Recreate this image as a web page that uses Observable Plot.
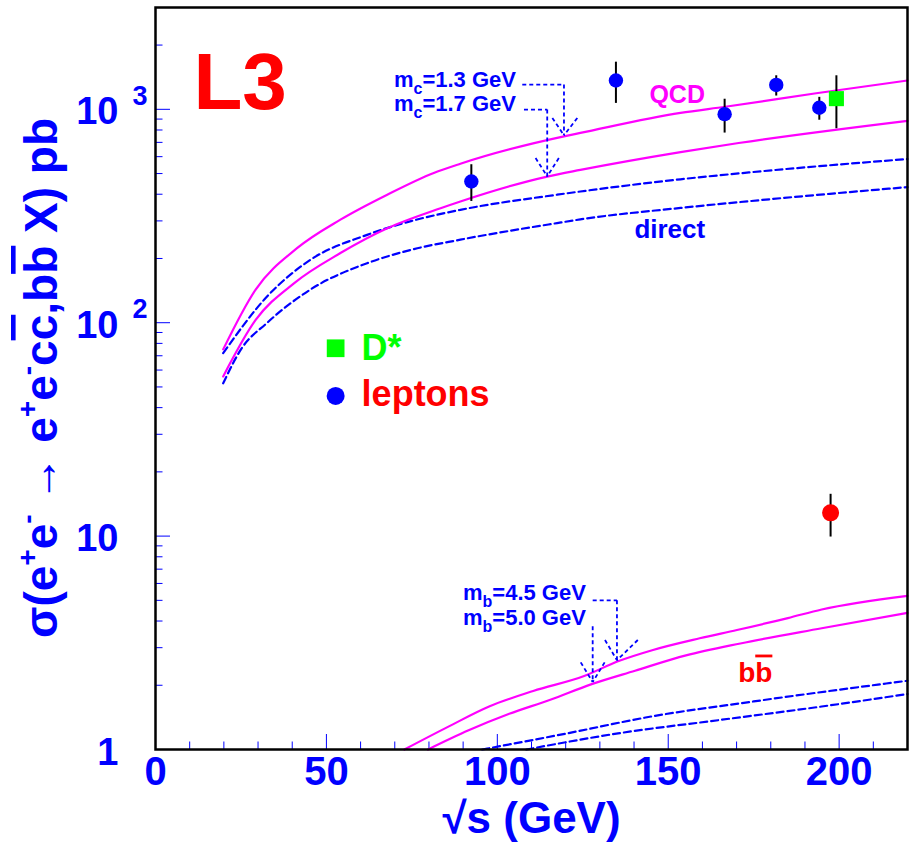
<!DOCTYPE html>
<html><head><meta charset="utf-8">
<script src="https://cdn.jsdelivr.net/npm/d3@7"></script>
<script src="https://cdn.jsdelivr.net/npm/@observablehq/plot@0.6"></script>
<style>html,body{margin:0;padding:0;background:#fff} svg{display:block}</style>
</head><body><div id="chart"></div>
<script>
// ---------- axis ticks & labels ----------
const xMajor = [0, 50, 100, 150, 200];
const xTickLabels = ["0", "50", "100", "150", "200"];
const xMinor = [10,20,30,40,60,70,80,90,110,120,130,140,160,170,180,190,210];
const yMajor = [1, 10, 100, 1000];
const yTickBase = ["1", "10", "10", "10"];
const yTickExp = ["", "", "2", "3"];
const yMinor = [2,3,4,5,6,7,8,9,20,30,40,50,60,70,80,90,200,300,400,500,600,700,800,900,2000,3000];
const xTitle = "√s (GeV)";

// ---------- theory curves (sqrt s in GeV, sigma in pb) ----------
const qcdC13X = [19.8, 29.3, 41.5, 54.1, 67.8, 81.4, 89.2, 119.5, 124.3, 153.6, 166.7, 193.3, 220];
const qcdC13Y = [75, 143, 224, 304, 398, 503, 556, 747, 775, 962, 1028, 1189, 1365];
const qcdC17X = [19.8, 29.3, 40.5, 54.1, 67.8, 83.4, 89.2, 114.6, 124.3, 153.6, 170.6, 220];
const qcdC17Y = [56, 103, 153, 212, 277, 344, 370, 484, 520, 630, 695, 883];
const dirC13X = [19.8, 32.7, 45.3, 61.9, 75, 89.2, 117.5, 124.3, 153.6, 173.6, 220];
const dirC13Y = [72, 133, 197, 258, 300, 338, 398, 412, 470, 506, 585];
const dirC17X = [19.8, 25, 32.7, 45.3, 61.9, 75, 89.2, 117.5, 124.3, 153.6, 173.6, 220];
const dirC17Y = [52, 75, 100, 143, 190, 220, 245, 293, 305, 345, 371, 432];
const qcdB45X = [72.8, 85.7, 97.6, 110.5, 125.4, 135.3, 145.3, 159.2, 170.1, 185.0, 194.9, 220];
const qcdB45Y = [1.0, 1.28, 1.59, 1.88, 2.21, 2.59, 2.92, 3.32, 3.63, 4.13, 4.53, 5.25];
const qcdB50X = [79.7, 91.6, 103.5, 115.5, 127.4, 140.3, 155.2, 171.1, 194.9, 220];
const qcdB50Y = [1.0, 1.23, 1.47, 1.71, 2.02, 2.34, 2.76, 3.14, 3.70, 4.37];
const dirB45X = [95.6, 120.4, 145.3, 175.0, 220];
const dirB45Y = [1.0, 1.19, 1.43, 1.68, 2.10];
const dirB50X = [108.5, 135.3, 165.1, 194.9, 220];
const dirB50Y = [1.0, 1.19, 1.375, 1.59, 1.82];

// ---------- measurements ----------
const lepX = [92.4, 134.7, 166.5, 181.6, 194.2];
const lepY = [459, 1365, 949, 1301, 1017];
const lepLo = [370, 1066, 774, 1154, 889];
const lepHi = [550, 1663, 1115, 1436, 1138];
const dstarX = [199.2];
const dstarY = [1122];
const dstarLo = [811];
const dstarHi = [1436];
const bbX = [197.5];
const bbY = [12.85];
const bbLo = [9.9];
const bbHi = [15.7];

// ---------- legend ----------
const legendLabels = ["D*", "leptons"];
const legendSymX = [52.7, 52.7];
const legendSymY = [75.9, 45.4];
const legendLabelX = [60.3, 60.3];
const legendLabelY = [66.9, 40.7];
const legendLabelColors = ["#00ff00", "#ff0000"];

// ---------- annotations (data coordinates) ----------
const arrowX1 = [107.3, 119.5, 116.1, 123.4, 107.8, 114.6, 111.2, 118.0, 127.9, 135.0, 131.5, 141.1, 127.9, 124.4, 131.4];
const arrowY1 = [1306, 1306, 911, 911, 997, 997, 591, 591, 5.0, 5.0, 3.26, 3.26, 3.78, 2.56, 2.56];
const arrowX2 = [119.5, 119.5, 119.5, 119.5, 114.6, 114.6, 114.6, 114.6, 135.0, 135.0, 135.0, 135.0, 127.9, 127.9, 127.9];
const arrowY2 = [1306, 755, 755, 755, 997, 485, 485, 485, 5.0, 2.62, 2.62, 2.62, 2.07, 2.07, 2.07];
const massLabelX = [69.9, 69.9, 90.1, 90.1];
const massLabelY = [1271, 972, 4.97, 3.81];
const massLabelSub = ["c", "c", "b", "b"];
const massLabelText = ["=1.3 GeV", "=1.7 GeV", "=4.5 GeV", "=5.0 GeV"];
const plainLabels = ["L3", "QCD", "direct"];
const plainLabelX = [11.1, 144.5, 140.1];
const plainLabelY = [1000, 1066, 249];
const plainLabelColors = ["#ff0000", "#ff00ff", "#0000ff"];
const plainLabelSizes = [80, 25, 26];
const bbLabelX = [170.6];
const bbLabelY = [2.07];

// ---------- build ----------
const pts = (xs, ys) => xs.map((x, i) => ({x, y: ys[i]}));
const meas = (xs, ys, lo, hi) => xs.map((x, i) => ({x, y: ys[i], lo: lo[i], hi: hi[i]}));
const W = 909, H = 843, mL = 155, mR = 2, mT = 7, mB = 94;
const fw = W - mL - mR, fh = H - mT - mB;
const FONT = "'Liberation Sans', Arial, Helvetica, sans-serif";
const BLUE = "#0000ff", MAG = "#ff00ff";

const curve = (xs, ys, stroke, dash) => Plot.line(pts(xs, ys), {x: "x", y: "y", stroke, strokeWidth: 2.2, strokeDasharray: dash, curve: "monotone-x"});

const leptons = meas(lepX, lepY, lepLo, lepHi);
const dstar = meas(dstarX, dstarY, dstarLo, dstarHi);
const bb = meas(bbX, bbY, bbLo, bbHi);
const arrows = arrowX1.map((x1, i) => ({x1, y1: arrowY1[i], x2: arrowX2[i], y2: arrowY2[i]}));
const legend = legendLabels.map((label, i) => ({label, sx: legendSymX[i], sy: legendSymY[i], lx: legendLabelX[i], ly: legendLabelY[i], color: legendLabelColors[i]}));

const plot = Plot.plot({
  width: W, height: H,
  marginLeft: mL, marginRight: mR, marginTop: mT, marginBottom: mB,
  x: {type: "linear", domain: [0, 220], axis: null},
  y: {type: "log", domain: [1, 3000], axis: null},
  style: {fontFamily: FONT, background: "white"},
  marks: [
    Plot.ruleX(xMajor, {x: d => d, insetTop: fh - 15, stroke: BLUE, strokeWidth: 1}),
    Plot.ruleX(xMinor, {x: d => d, insetTop: fh - 7.5, stroke: BLUE, strokeWidth: 1}),
    Plot.ruleY(yMajor, {y: d => d, insetRight: fw - 15, stroke: BLUE, strokeWidth: 1}),
    Plot.ruleY(yMinor, {y: d => d, insetRight: fw - 7.5, stroke: BLUE, strokeWidth: 1}),
    Plot.text(xMajor, {x: d => d, text: (d, i) => xTickLabels[i], frameAnchor: "bottom", dy: 35, lineAnchor: "bottom",
      fontSize: 40, fontWeight: "bold", fill: BLUE}),
    Plot.text(yMajor, {y: d => d, text: (d, i) => yTickBase[i], frameAnchor: "left", textAnchor: "end", dx: -37, dy: 3,
      lineAnchor: "middle", fontSize: 38, fontWeight: "bold", fill: BLUE}),
    Plot.text(yMajor, {y: d => d, text: (d, i) => yTickExp[i], frameAnchor: "left", textAnchor: "start", dx: -23, dy: -13,
      lineAnchor: "middle", fontSize: 27, fontWeight: "bold", fill: BLUE}),
    Plot.text([xTitle], {frameAnchor: "bottom", dy: 83, lineAnchor: "bottom", fontSize: 44, fontWeight: "bold", fill: BLUE}),
    curve(dirC13X, dirC13Y, BLUE, "7,4"),
    curve(dirC17X, dirC17Y, BLUE, "7,4"),
    curve(dirB45X, dirB45Y, BLUE, "7,4"),
    curve(dirB50X, dirB50Y, BLUE, "7,4"),
    curve(qcdC13X, qcdC13Y, MAG),
    curve(qcdC17X, qcdC17Y, MAG),
    curve(qcdB45X, qcdB45Y, MAG),
    curve(qcdB50X, qcdB50Y, MAG),
    Plot.link(arrows, {x1: "x1", y1: "y1", x2: "x2", y2: "y2", stroke: BLUE, strokeWidth: 1.8, strokeDasharray: "4,3"}),
    Plot.ruleX(leptons, {x: "x", y1: "lo", y2: "hi", stroke: "black", strokeWidth: 2}),
    Plot.ruleX(dstar, {x: "x", y1: "lo", y2: "hi", stroke: "black", strokeWidth: 2}),
    Plot.ruleX(bb, {x: "x", y1: "lo", y2: "hi", stroke: "black", strokeWidth: 2}),
    Plot.dot(leptons, {x: "x", y: "y", r: 7.2, fill: BLUE, stroke: "none"}),
    Plot.dot(dstar, {x: "x", y: "y", r: 8.5, symbol: "square", fill: "#00ff00", stroke: "none"}),
    Plot.dot(bb, {x: "x", y: "y", r: 8.5, fill: "#ff0000", stroke: "none"}),
    Plot.dot(legend.slice(0, 1), {x: "sx", y: "sy", r: 10, symbol: "square", fill: "#00ff00", stroke: "none"}),
    Plot.dot(legend.slice(1, 2), {x: "sx", y: "sy", r: 9, symbol: "circle", fill: BLUE, stroke: "none"}),
    Plot.text(legend, {x: "lx", y: "ly", text: "label", fill: "color", textAnchor: "start", lineAnchor: "bottom", fontSize: 36, fontWeight: "bold"}),
    Plot.text(plainLabelX, {x: d => d, y: (d, i) => plainLabelY[i], text: (d, i) => plainLabels[i],
      fill: (d, i) => plainLabelColors[i], fontSize: (d, i) => plainLabelSizes[i], textAnchor: "start", lineAnchor: "bottom", fontWeight: "bold"}),
    Plot.frame({stroke: "black", strokeWidth: 2.5})
  ]
});
document.getElementById("chart").appendChild(plot);

// ---------- rich texts (sub/superscripts, bars) placed through the plot's scales ----------
const sx = plot.scale("x"), sy = plot.scale("y");
const svg = d3.select(plot);
function rich(g, parts, baseSize) {
  let cur = 0;
  parts.forEach(p => {
    const s = p.s || 0;
    const ts = g.append("tspan").text(p.t).attr("dy", s - cur).attr("font-size", p.fs || baseSize);
    if (p.over) ts.style("text-decoration", "overline");
    if (p.w) ts.attr("font-weight", p.w);
    cur = s;
  });
}
// mass labels
massLabelX.forEach((x, i) => {
  const g = svg.append("text").attr("x", sx.apply(x)).attr("y", sy.apply(massLabelY[i])).attr("text-anchor", "start")
    .attr("font-family", FONT).attr("font-weight", "bold").attr("fill", BLUE);
  rich(g, [{t: "m"}, {t: massLabelSub[i], s: 7, fs: 16}, {t: massLabelText[i]}], 22);
});
// b bbar label
bbLabelX.forEach((x, i) => {
  const g = svg.append("text").attr("x", sx.apply(x)).attr("y", sy.apply(bbLabelY[i])).attr("text-anchor", "start")
    .attr("font-family", FONT).attr("font-weight", "bold").attr("fill", "#ff0000");
  rich(g, [{t: "b"}, {t: "b", over: true}], 28);
});
// y axis title
{
  const g = svg.append("text").attr("transform", `translate(57,${(mT + H - mB) / 2}) rotate(-90)`)
    .attr("text-anchor", "middle").attr("font-family", FONT).attr("font-weight", "bold").attr("fill", BLUE);
  const sup = (t) => ({t, s: -20, fs: 28});
  rich(g, [{t: "σ(e"}, sup("+"), {t: "e"}, sup("-"), {t: " "}, {t: "→", w: "normal"}, {t: " e"}, sup("+"), {t: "e"}, sup("-"),
    {t: "c"}, {t: "c", over: true}, {t: ",b"}, {t: "b", over: true}, {t: " X) pb"}], 46);
}
</script>
</body></html>
